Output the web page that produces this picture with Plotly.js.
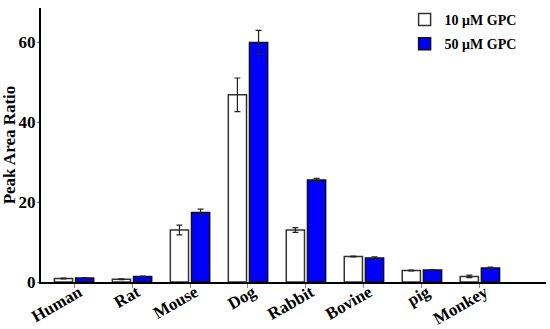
<!DOCTYPE html>
<html>
<head>
<meta charset="utf-8">
<script src="https://cdn.plot.ly/plotly-3.0.1.min.js"></script>
<style>html,body{margin:0;padding:0;background:#fff;}#chart{width:550px;height:329px;}</style>
</head>
<body>
<div id="chart"></div>
<script>
const categories = ["Human", "Rat", "Mouse", "Dog", "Rabbit", "Bovine", "pig", "Monkey"];
const seriesNames = ["10 \u03bcM GPC", "50 \u03bcM GPC"];
const gpc10 = [0.9, 0.7, 13.0, 46.8, 13.0, 6.4, 2.9, 1.4];
const gpc10Err = [0.1, 0.1, 1.2, 4.2, 0.6, 0.1, 0.1, 0.3];
const gpc50 = [1.0, 1.4, 17.4, 59.9, 25.5, 6.0, 3.0, 3.5];
const gpc50Err = [0.1, 0.1, 0.8, 3.0, 0.4, 0.3, 0.1, 0.2];
const yTicks = [0, 20, 40, 60];

const font = "'Liberation Serif', 'Times New Roman', serif";
const errStyle = {type: 'data', visible: true, color: '#222', thickness: 1.2, width: 3};

const traces = [
  {type: 'bar', name: seriesNames[0], legendgroup: 'a', x: categories, y: gpc10,
   error_y: Object.assign({array: gpc10Err}, errStyle),
   marker: {color: '#ffffff', line: {color: '#333', width: 1.5}}},
  {type: 'bar', name: seriesNames[1], legendgroup: 'b', x: categories, y: gpc50,
   error_y: Object.assign({array: gpc50Err}, errStyle),
   marker: {color: '#0000ff', line: {color: '#111', width: 1.5}}}
];

const layout = {
  width: 550, height: 329,
  margin: {l: 41, r: 4, t: 8, b: 47},
  paper_bgcolor: '#fff', plot_bgcolor: '#fff',
  barmode: 'group', bargap: 0.27, bargroupgap: 0.14,
  font: {family: font, color: '#000'},
  showlegend: true,
  legend: {x: 0.72, y: 1.015, xanchor: 'left', yanchor: 'top',
           font: {family: font, size: 14, weight: 'bold'},
           traceorder: 'grouped', tracegroupgap: 3,
           bgcolor: 'rgba(0,0,0,0)'},
  xaxis: {type: 'category', range: [-0.57, 8.14], showline: true, linecolor: '#000', linewidth: 2,
          ticks: 'outside', ticklen: 4, tickcolor: '#888', tickwidth: 1,
          tickangle: -30, ticklabelstandoff: -12, ticklabelshift: 5, showgrid: false, zeroline: false,
          tickfont: {family: font, size: 17, weight: 'bold'}},
  yaxis: {range: [0, 68.5], tickvals: yTicks, ticktext: yTicks.map(String),
          showline: true, linecolor: '#000', linewidth: 2,
          ticks: 'outside', ticklen: 2, tickcolor: '#888', ticklabelstandoff: -2,
          showgrid: false, zeroline: false,
          tickfont: {family: font, size: 17, weight: 'bold'},
          title: {text: 'Peak Area Ratio', font: {family: font, size: 17, weight: 'bold'}, standoff: 8}}
};

Plotly.newPlot('chart', traces, layout, {staticPlot: true});
</script>
</body>
</html>
